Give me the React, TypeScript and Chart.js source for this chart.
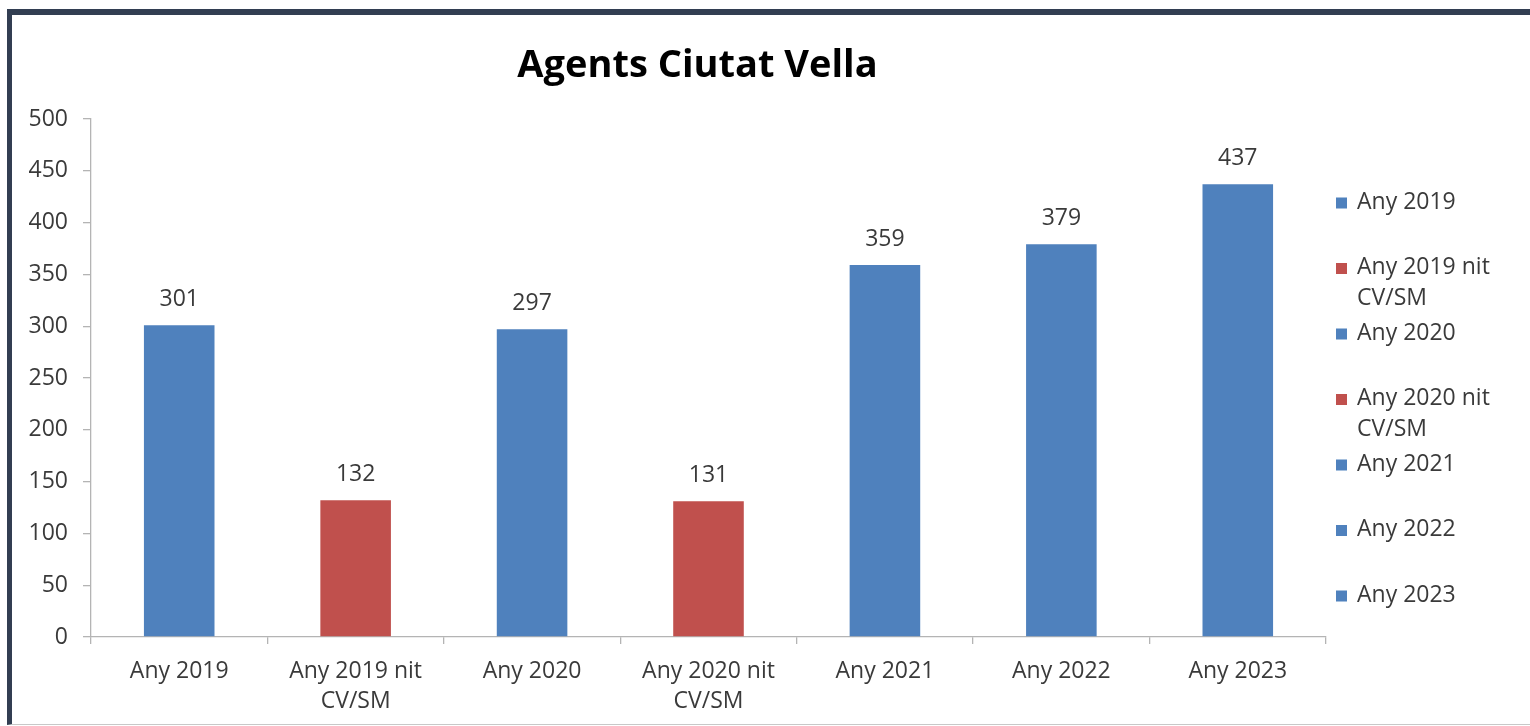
import React, { useEffect, useRef } from 'react';
import { Chart, registerables } from 'chart.js';

Chart.register(...registerables);

const chartTitle = 'Agents Ciutat Vella';
const categoryLabels: string[][] = [
  ['Any 2019'],
  ['Any 2019 nit', 'CV/SM'],
  ['Any 2020'],
  ['Any 2020 nit', 'CV/SM'],
  ['Any 2021'],
  ['Any 2022'],
  ['Any 2023'],
];
const values = [301, 132, 297, 131, 359, 379, 437];
const barColors = ['#4f81bd', '#c0504d', '#4f81bd', '#c0504d', '#4f81bd', '#4f81bd', '#4f81bd'];
const yMin = 0;
const yMax = 500;
const yStep = 50;

const FONT = '"Open Sans", "Liberation Sans", sans-serif';
const TEXT = '#3a3a3a';
const AXIS = '#b4b4b4';

const titlePlugin = {
  id: 'centerTitle',
  afterDraw(chart: any, _args: any, opts: any) {
    const ctx = chart.ctx;
    const ca = chart.chartArea;
    ctx.save();
    ctx.font = `bold ${opts.size}px ${FONT}`;
    ctx.fillStyle = '#000000';
    ctx.textAlign = 'center';
    ctx.textBaseline = 'middle';
    ctx.fillText(opts.text, (ca.left + ca.right) / 2 + opts.dx, ca.top - opts.above);
    ctx.restore();
  },
};

const dataLabelPlugin = {
  id: 'dataLabels',
  afterDatasetsDraw(chart: any, _args: any, opts: any) {
    const ctx = chart.ctx;
    ctx.save();
    ctx.font = `${opts.size}px ${FONT}`;
    ctx.fillStyle = TEXT;
    ctx.textAlign = 'center';
    ctx.textBaseline = 'middle';
    chart.data.datasets.forEach((ds: any, di: number) => {
      const meta = chart.getDatasetMeta(di);
      meta.data.forEach((el: any, i: number) => {
        ctx.fillText(String(ds.data[i]), el.x, el.y - opts.offset);
      });
    });
    ctx.restore();
  },
};

const sideLegendPlugin = {
  id: 'sideLegend',
  afterDraw(chart: any, _args: any, opts: any) {
    const ctx = chart.ctx;
    const x0 = chart.chartArea.right + opts.left;
    ctx.save();
    ctx.font = `${opts.size}px ${FONT}`;
    ctx.textAlign = 'left';
    ctx.textBaseline = 'middle';
    categoryLabels.forEach((lines, i) => {
      const y = opts.top + i * opts.gap;
      ctx.fillStyle = barColors[i];
      ctx.fillRect(x0, y + opts.boxShift - opts.box / 2, opts.box, opts.box);
      ctx.fillStyle = TEXT;
      lines.forEach((ln, j) => ctx.fillText(ln, x0 + opts.box + opts.textGap, y + j * opts.lineHeight));
    });
    ctx.restore();
  },
};

export default function App() {
  const ref = useRef<HTMLCanvasElement>(null);

  useEffect(() => {
    if (!ref.current) return;
    const chart = new Chart(ref.current, {
      type: 'bar',
      data: {
        labels: categoryLabels,
        datasets: [
          {
            data: values,
            backgroundColor: barColors,
            borderWidth: 0,
            barPercentage: 0.4,
            categoryPercentage: 1,
          },
        ],
      },
      plugins: [titlePlugin, dataLabelPlugin, sideLegendPlugin],
      options: {
        responsive: false,
        animation: false,
        devicePixelRatio: 1,
        layout: { padding: { left: 10, right: 204, top: 119, bottom: 0 } },
        plugins: {
          legend: { display: false },
          tooltip: { enabled: false },
          title: { display: false },
          centerTitle: { text: chartTitle, size: 38, dx: -11, above: 53 },
          dataLabels: { size: 23, offset: 26 },
          sideLegend: { left: 10, top: 202, gap: 65.5, box: 11, boxShift: 1, textGap: 10, size: 23, lineHeight: 31 },
        } as any,
        scales: {
          x: {
            grid: {
              display: true,
              drawOnChartArea: false,
              drawTicks: true,
              tickLength: 7,
              color: AXIS,
              lineWidth: 1.3,
              offset: true,
            },
            border: { display: true, color: AXIS, width: 1.3 },
            ticks: {
              color: TEXT,
              font: { family: FONT, size: 23, lineHeight: 1.3 },
              padding: 13,
              maxRotation: 0,
              autoSkip: false,
            },
            afterFit: (s: any) => {
              s.height = 89;
            },
          },
          y: {
            min: yMin,
            max: yMax,
            grid: {
              display: true,
              drawOnChartArea: false,
              drawTicks: true,
              tickLength: 8,
              color: AXIS,
              lineWidth: 1.3,
            },
            border: { display: true, color: AXIS, width: 1.3 },
            ticks: {
              stepSize: yStep,
              color: TEXT,
              font: { family: FONT, size: 23 },
              padding: 15,
            },
            afterFit: (s: any) => {
              s.width = 81;
            },
          },
        },
      },
    });
    return () => chart.destroy();
  }, []);

  return (
    <div style={{ position: 'fixed', left: 0, top: 0, width: 1530, height: 726, background: '#ffffff', overflow: 'hidden' }}>
      <div
        style={{
          position: 'absolute',
          left: 7,
          top: 9,
          width: 1523,
          height: 716,
          boxSizing: 'border-box',
          borderTop: '6px solid #323e52',
          borderLeft: '5px solid #323e52',
          borderBottom: '1px solid #c8c8c8',
        }}
      />
      <canvas ref={ref} width={1530} height={726} style={{ position: 'absolute', left: 0, top: 0 }} />
    </div>
  );
}
